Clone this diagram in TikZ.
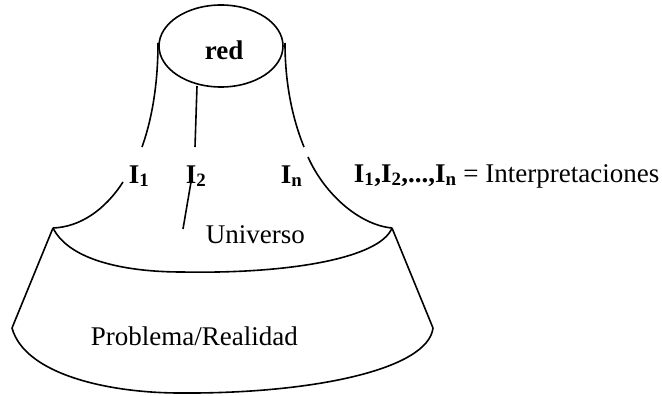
\documentclass[tikz,border=0pt]{standalone}
\usepackage{fontspec}
\setmainfont{Liberation Serif}
\usetikzlibrary{shapes.geometric}
\begin{document}
\begin{tikzpicture}[x=1pt, y=-1pt, line width=1.6pt,
    lbl/.style={anchor=base west, inner sep=0pt, font=\fontsize{27}{32}\selectfont}]
    \useasboundingbox (0,0) rectangle (662,396);

    % 1. Ellipse "red" at the top
    \node[draw, ellipse, minimum width=124pt, minimum height=82pt, inner sep=0pt] (red) at (221,46) {};
    \node[lbl, font=\fontsize{27}{32}\selectfont\bfseries] (redtxt) at (204,60) {red};

    % 2. Points of the three strands
    \path (158,43)  coordinate (L1)
          (142,147) coordinate (L2)
          (123,182) coordinate (L3)
          (53,228)  coordinate (A)
          (197,86)  coordinate (M1)
          (195,147) coordinate (M2)
          (191,182) coordinate (M3)
          (183,229) coordinate (M4)
          (285,43)  coordinate (R1)
          (304,147) coordinate (R2)
          (308,157) coordinate (R3)
          (392,228) coordinate (B);

    % bottom corners of the base
    \coordinate (C) at (12,328);
    \coordinate (D) at (433,328);

    % 3. Strand I1 (left)
    \draw (L1) .. controls (158,90) and (150,125) .. (L2);
    \draw (L3) .. controls (105,210) and (80,227) .. (A);

    % 4. Strand I2 (middle)
    \draw (M1) -- (M2);
    \draw (M3) -- (M4);

    % 5. Strand In (right)
    \draw (R1) .. controls (285,90) and (295,125) .. (R2);
    \draw (R3) .. controls (325,195) and (360,225) .. (B);

    % 6. Universo (lower rim of the funnel)
    \draw (A) .. controls (70,262) and (130,272) .. (182,272)
              .. controls (290,274) and (380,258) .. (B);

    % 7. Problema/Realidad (base)
    \draw (A) -- (C);
    \draw (B) -- (D);
    \draw (C) .. controls (25,375) and (110,393) .. (180,393)
              .. controls (310,394) and (428,370) .. (D);

    % 8. Labels
    \node[lbl] (i1) at (128,183) {\textbf{I\textsubscript{1}}};
    \node[lbl] (i2) at (185,183) {\textbf{I\textsubscript{2}}};
    \node[lbl] (in) at (280,183) {\textbf{I\textsubscript{n}}};
    \node[lbl] (legend) at (353,182) {\textbf{I\textsubscript{1},I\textsubscript{2},...,I\textsubscript{n}} = Interpretaciones};
    \node[lbl] (univ) at (205,243) {Universo};
    \node[lbl] (prob) at (90,345) {Problema/Realidad};
\end{tikzpicture}
\end{document}
